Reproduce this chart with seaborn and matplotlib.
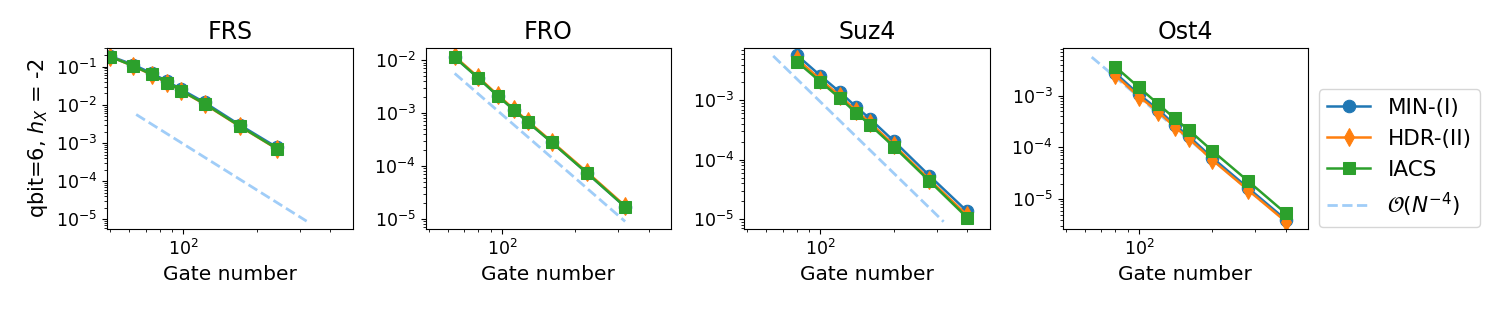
import pandas as pd
import seaborn as sns
import matplotlib.pyplot as plt
from matplotlib.ticker import NullFormatter

# Panel titles and methods
titles = ["FRS", "FRO", "Suz4", "Ost4"]
methods = ["MIN-(I)", "HDR-(II)", "IACS"]

# Gate numbers (x) for each panel
gates_frs = [50, 62, 74, 86, 98, 122, 170, 242]
gates_fro = [64, 80, 96, 112, 128, 160, 224, 320]
gates_suz4 = [80, 100, 120, 140, 160, 200, 280, 400]
gates_ost4 = [80, 100, 120, 140, 160, 200, 280, 400]

# Errors
frs_min = [0.19, 0.114, 0.068, 0.041, 0.0254, 0.0116, 0.0030, 7.7e-4]
frs_hdr = [0.185, 0.105, 0.062, 0.0375, 0.0232, 0.0105, 0.00275, 7.0e-4]
frs_iacs = [0.183, 0.106, 0.063, 0.038, 0.0235, 0.0107, 0.0028, 7.1e-4]

fro_min = [0.0113, 4.6e-3, 2.13e-3, 1.15e-3, 6.7e-4, 2.82e-4, 7.3e-5, 1.7e-5]
fro_hdr = [0.0117, 4.75e-3, 2.2e-3, 1.19e-3, 6.95e-4, 2.9e-4, 7.6e-5, 1.77e-5]
fro_iacs = [0.01125, 4.57e-3, 2.12e-3, 1.14e-3, 6.68e-4, 2.8e-4, 7.3e-5, 1.7e-5]

suz4_min = [5.8e-3, 2.6e-3, 1.38e-3, 7.8e-4, 4.84e-4, 2.06e-4, 5.36e-5, 1.34e-5]
suz4_hdr = [5.0e-3, 2.24e-3, 1.19e-3, 6.7e-4, 4.16e-4, 1.77e-4, 4.6e-5, 1.15e-5]
suz4_iacs = [4.48e-3, 2.06e-3, 1.09e-3, 6.18e-4, 3.83e-4, 1.65e-4, 4.35e-5, 1.05e-5]

ost4_min = [2.75e-3, 1.06e-3, 5.4e-4, 2.75e-4, 1.65e-4, 6.3e-5, 1.65e-5, 4.0e-6]
ost4_hdr = [2.5e-3, 9.6e-4, 4.9e-4, 2.5e-4, 1.5e-4, 5.7e-5, 1.5e-5, 3.66e-6]
ost4_iacs = [3.64e-3, 1.45e-3, 6.9e-4, 3.65e-4, 2.17e-4, 8.6e-5, 2.24e-5, 5.3e-6]

# O(N^-4) guide line end points
ref_x = [64, 320]
ref_y = [5.6e-3, 9.0e-6]

panels = [
    (gates_frs, [frs_min, frs_hdr, frs_iacs]),
    (gates_fro, [fro_min, fro_hdr, fro_iacs]),
    (gates_suz4, [suz4_min, suz4_hdr, suz4_iacs]),
    (gates_ost4, [ost4_min, ost4_hdr, ost4_iacs]),
]
ylims = [(5.5e-6, 0.314), (6.4e-6, 0.0171), (6.7e-6, 7.7e-3), (2.6e-6, 8.5e-3)]

palette = {"MIN-(I)": "#1f77b4", "HDR-(II)": "#ff7f0e", "IACS": "#2ca02c"}
markers = {"MIN-(I)": "o", "HDR-(II)": "d", "IACS": "s"}

fig, axes = plt.subplots(1, 4, figsize=(14.95, 3.12), dpi=100)
fig.subplots_adjust(left=0.0716, right=0.875, bottom=0.265, top=0.847, wspace=0.297)

for ax, title, (gates, series), ylim in zip(axes, titles, panels, ylims):
    rows = []
    for m, vals in zip(methods, series):
        for g, v in zip(gates, vals):
            rows.append({"gates": g, "err": v, "method": m})
    df = pd.DataFrame(rows)

    ax.plot(ref_x, ref_y, "--", color="#a0cdf8", lw=2, zorder=1, label=r"$\mathcal{O}(N^{-4})$")
    sns.lineplot(data=df, x="gates", y="err", hue="method", style="method",
                 hue_order=methods, style_order=methods, palette=palette,
                 markers=markers, dashes=False, markersize=9, lw=1.8,
                 legend=False, ax=ax)
    for ln in ax.lines[1:]:
        ln.set_markeredgecolor(ln.get_color())
        ln.set_markerfacecolor(ln.get_color())

    ax.set_xscale("log")
    ax.set_yscale("log")
    ax.set_xlim(48.6, 494)
    ax.set_ylim(*ylim)
    ax.xaxis.set_minor_formatter(NullFormatter())
    ax.set_title(title, fontsize=17)
    ax.set_xlabel("Gate number", fontsize=14.5)
    ax.set_ylabel("")
    ax.tick_params(labelsize=12.5)

axes[0].set_ylabel("qbit=6, $h_X$ = -2", fontsize=15)

lines = axes[-1].lines
handles = lines[1:] + [lines[0]]
labels = methods + [r"$\mathcal{O}(N^{-4})$"]
fig.legend(handles, labels, loc="lower left", bbox_to_anchor=(0.882, 0.272),
           borderaxespad=0, fontsize=15.5)

fig.savefig("out.png", dpi=100)
